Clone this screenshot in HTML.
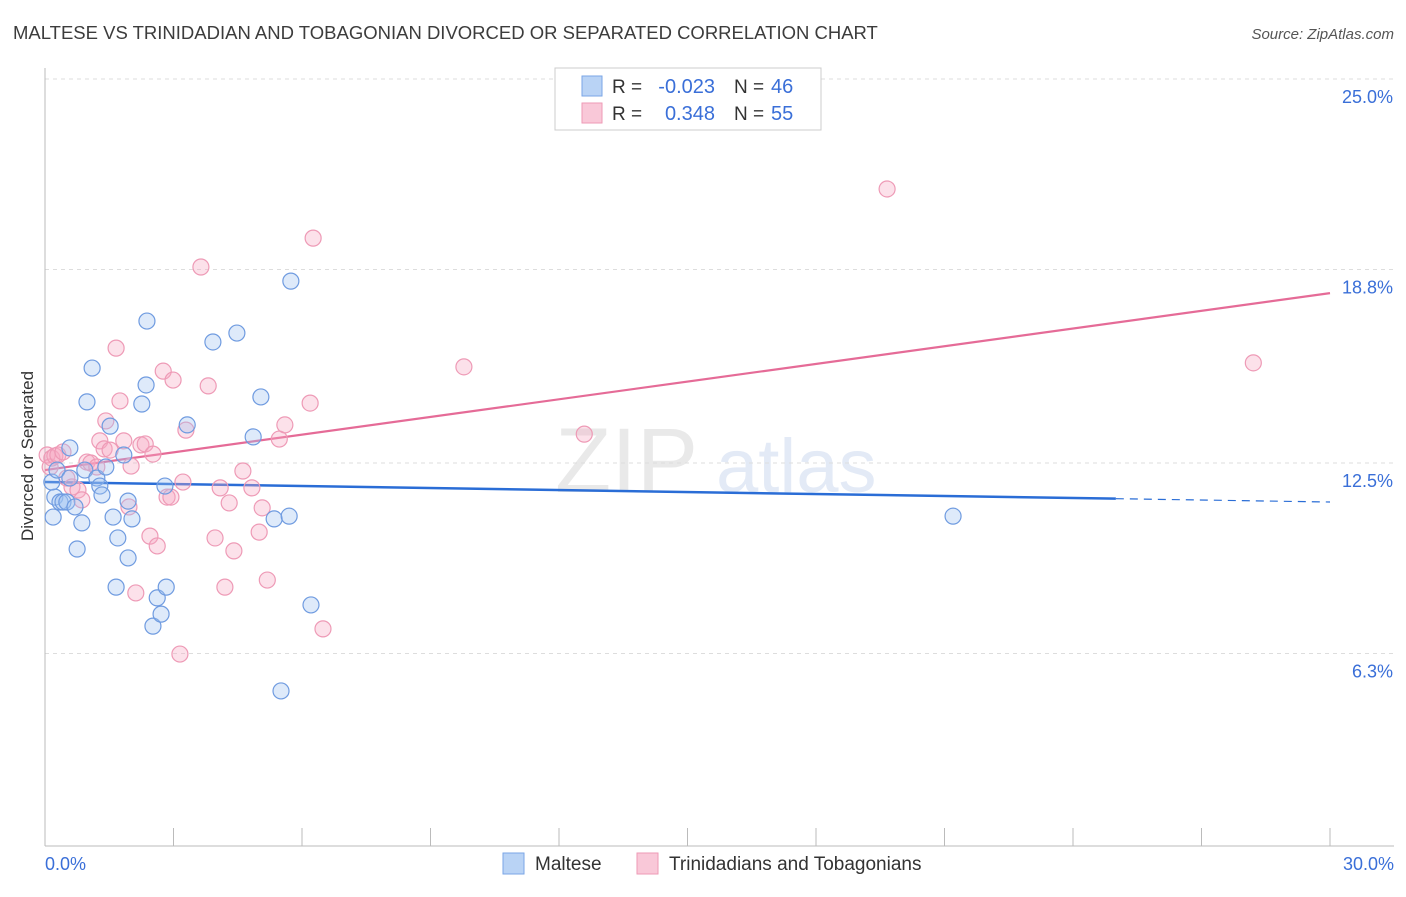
<!DOCTYPE html>
<html><head><meta charset="utf-8">
<style>
body{margin:0;background:#fff;font-family:"Liberation Sans",sans-serif;}
svg text{font-family:"Liberation Sans",sans-serif;}
</style></head>
<body>
<svg id="chart" width="1406" height="892" xmlns="http://www.w3.org/2000/svg">
<text x="13" y="39" font-size="18.5" fill="#3c3c3c">MALTESE VS TRINIDADIAN AND TOBAGONIAN DIVORCED OR SEPARATED CORRELATION CHART</text>
<text x="1394" y="39" font-size="15" fill="#555" font-style="italic" text-anchor="end">Source: ZipAtlas.com</text>
<text transform="translate(33,456) rotate(-90)" font-size="17" fill="#333" text-anchor="middle">Divorced or Separated</text>
<g opacity="0.18">
<text x="555" y="492" font-size="92" font-family="Liberation Serif" fill="#888">ZIP</text>
<text x="716" y="492" font-size="76" fill="#6a8fd0">atlas</text>
</g>
<g id="grid"></g><g id="axes"></g><g id="lines"></g><g id="pts"></g>
<g>
<rect x="555" y="68" width="266" height="62" fill="#fff" stroke="#ccc"/>
<rect x="582" y="76" width="20" height="20" fill="#b9d3f5" stroke="#7aa6e6"/>
<rect x="582" y="103" width="20" height="20" fill="#f9c8d8" stroke="#ee9ab6"/>
<text x="612" y="93" font-size="19" fill="#333">R =</text>
<text x="715" y="93" font-size="20" fill="#3a6fd8" text-anchor="end">-0.023</text>
<text x="734" y="93" font-size="19" fill="#333">N =</text>
<text x="771" y="93" font-size="20" fill="#3a6fd8">46</text>
<text x="612" y="120" font-size="19" fill="#333">R =</text>
<text x="715" y="120" font-size="20" fill="#3a6fd8" text-anchor="end">0.348</text>
<text x="734" y="120" font-size="19" fill="#333">N =</text>
<text x="771" y="120" font-size="20" fill="#3a6fd8">55</text>
</g>
<g>
<rect x="503" y="853" width="21" height="21" fill="#b9d3f5" stroke="#7aa6e6"/>
<text x="535" y="870" font-size="19" fill="#333">Maltese</text>
<rect x="637" y="853" width="21" height="21" fill="#f9c8d8" stroke="#ee9ab6"/>
<text x="669" y="870" font-size="19" fill="#333">Trinidadians and Tobagonians</text>
</g>
</svg>
<script>
const blueX=[0.19,0.23,0.16,0.28,0.35,0.42,0.51,0.58,0.58,0.70,0.75,0.86,0.98,0.93,1.10,1.21,1.28,1.33,1.42,1.52,1.59,1.66,1.70,1.84,1.94,1.94,2.03,2.26,2.36,2.38,2.52,2.62,2.71,2.83,2.80,3.32,3.92,4.48,4.86,5.04,5.35,5.51,5.70,5.74,6.21,21.20];
const blueY=[10.74,11.39,11.88,12.27,11.23,11.23,11.23,12.99,12.01,11.07,9.70,10.55,14.49,12.27,15.59,12.01,11.75,11.46,12.37,13.70,10.74,8.46,10.06,12.76,9.41,11.26,10.68,14.42,15.04,17.12,7.19,8.11,7.58,8.46,11.75,13.74,16.44,16.73,13.35,14.65,10.68,5.08,10.77,18.42,7.88,10.77];
const pinkX=[0.05,0.12,0.16,0.23,0.30,0.42,0.51,0.63,0.77,0.86,0.98,1.07,1.21,1.28,1.38,1.42,1.52,1.66,1.75,1.84,1.96,2.01,2.12,2.24,2.34,2.45,2.52,2.62,2.76,2.85,2.94,2.99,3.15,3.22,3.29,3.64,3.81,3.97,4.09,4.20,4.30,4.41,4.62,4.83,5.00,5.07,5.19,5.47,5.60,6.19,6.26,6.49,9.78,12.59,19.66,28.21];
const pinkY=[12.76,12.37,12.66,12.73,12.76,12.86,12.01,11.72,11.62,11.30,12.53,12.50,12.37,13.22,12.96,13.87,12.92,16.24,14.52,13.22,11.07,12.40,8.27,13.09,13.12,10.12,12.79,9.80,15.49,11.39,11.39,15.20,6.28,11.88,13.57,18.88,15.01,10.06,11.69,8.46,11.20,9.64,12.24,11.69,10.25,11.04,8.69,13.28,13.74,14.45,19.82,7.10,15.63,13.44,21.42,15.76];
const yTicks=[25.0,18.8,12.5,6.3];
const yTickLabels=["25.0%","18.8%","12.5%","6.3%"];
const blueTrend=[11.88,11.23];
const pinkTrend=[12.27,18.03];
const NS="http://www.w3.org/2000/svg";
const sx=v=>45+v/30*1285, sy=v=>847-v*30.72;
function mk(t,a,p){const e=document.createElementNS(NS,t);for(const k in a)e.setAttribute(k,a[k]);p.appendChild(e);return e;}
const grid=document.getElementById('grid'),axes=document.getElementById('axes'),lines=document.getElementById('lines'),pts=document.getElementById('pts');
yTicks.forEach((t,i)=>{
 const l=mk('line',{x1:45,x2:1394,y1:sy(t),y2:sy(t),stroke:'#ddd','stroke-dasharray':'4,4'},grid);
 
 
 const tx=mk('text',{x:1393,y:sy(t)+24,'font-size':18,fill:'#3a6fd8','text-anchor':'end'},axes);
 tx.textContent=yTickLabels[i];
 
 
});
mk('line',{x1:45,x2:45,y1:68,y2:846,stroke:'#bbb'},axes);
mk('line',{x1:45,x2:1394,y1:846,y2:846,stroke:'#bbb'},axes);
for(let i=0;i<=10;i++){const x=sx(i*3);mk('line',{x1:x,x2:x,y1:828,y2:846,stroke:'#bbb'},axes);}
const x0=mk('text',{x:45,y:870,'font-size':18,fill:'#3a6fd8'},axes);x0.textContent='0.0%';


const x1=mk('text',{x:1394,y:870,'font-size':18,fill:'#3a6fd8','text-anchor':'end'},axes);x1.textContent='30.0%';


function pt(xs,ys,fill,stroke,name){xs.forEach((v,i)=>{const c=mk('circle',{cx:sx(v),cy:sy(ys[i]),r:8,fill:fill,stroke:stroke,'stroke-width':1.2},pts);
 
 });}
pt(pinkX,pinkY,'rgba(245,170,195,0.35)','#ee9ab6','pink-point');
pt(blueX,blueY,'rgba(160,195,240,0.35)','#6f9be0','blue-point');
const by=x=>blueTrend[0]+(blueTrend[1]-blueTrend[0])*x/30;
const bl=mk('line',{x1:sx(0),y1:sy(by(0)),x2:sx(25),y2:sy(by(25)),stroke:'#2a6dd6','stroke-width':2.5},lines);


const bd=mk('line',{x1:sx(25),y1:sy(by(25)),x2:sx(30),y2:sy(by(30)),stroke:'#2a6dd6','stroke-width':1.2,'stroke-dasharray':'8,6'},lines);


const pl=mk('line',{x1:sx(0),y1:sy(pinkTrend[0]),x2:sx(30),y2:sy(pinkTrend[1]),stroke:'#e56b97','stroke-width':2.2},lines);


</script>
</body></html>
